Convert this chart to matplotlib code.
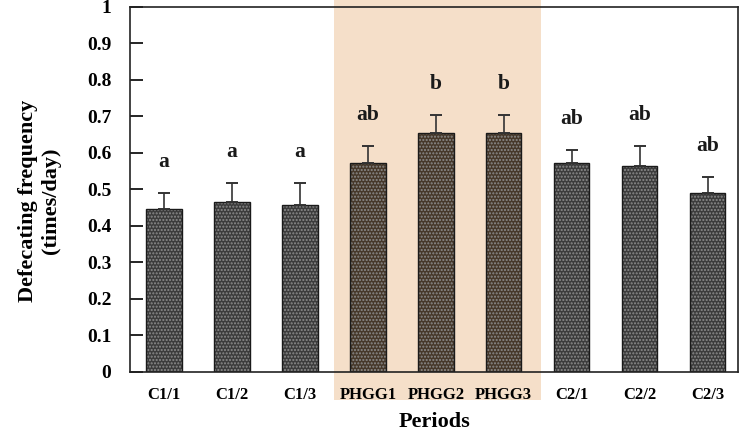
import numpy as np
import matplotlib
matplotlib.use('Agg')
import matplotlib.pyplot as plt
from matplotlib.patches import Rectangle
import matplotlib.transforms as mtransforms

# data
periods = ['C1/1', 'C1/2', 'C1/3', 'PHGG1', 'PHGG2', 'PHGG3', 'C2/1', 'C2/2', 'C2/3']
means = [0.447, 0.466, 0.456, 0.573, 0.655, 0.655, 0.572, 0.563, 0.490]
err_top = [0.490, 0.518, 0.518, 0.620, 0.705, 0.705, 0.607, 0.620, 0.533]
letters = ['a', 'a', 'a', 'ab', 'b', 'b', 'ab', 'ab', 'ab']
phgg_span = (2.5, 5.55)

plt.rcParams['font.family'] = ['Liberation Serif', 'DejaVu Serif']
plt.rcParams['font.weight'] = 'bold'

fig = plt.figure(figsize=(7.39, 4.36), dpi=100)
ax = fig.add_axes([0.176, 0.147, 0.823, 0.837])

x = np.arange(len(periods))
yerr = np.array(err_top) - np.array(means)

# shaded PHGG period, runs above the plot and down over the tick labels
trans = mtransforms.blended_transform_factory(ax.transData, ax.transAxes)
shade = Rectangle((phgg_span[0], -0.077), phgg_span[1] - phgg_span[0], 1.1,
                  transform=trans, facecolor='#f5dfc9', edgecolor='none',
                  clip_on=False, zorder=0)
ax.add_patch(shade)

colors = ['#46382a' if p.startswith('PHGG') else '#3c3c3c' for p in periods]
bars = ax.bar(x, means, width=0.52, color=colors, edgecolor='#1a1a1a',
              linewidth=1.0, hatch='.....', zorder=2)
for b in bars:
    b._hatch_color = (0.55, 0.55, 0.55, 1.0)

ax.errorbar(x, means, yerr=[np.zeros(len(x)), yerr], fmt='none',
            ecolor='#333333', elinewidth=1.2, capsize=4.6, capthick=1.4, zorder=3)

for xi, top, lab in zip(x, err_top, letters):
    ax.text(xi, top + 0.085, lab, ha='center', va='center',
            fontsize=15.5, fontweight='bold', color='#1a1a1a')

ax.set_xlim(-0.5, 8.45)
ax.set_ylim(0, 1)
ticks = np.round(np.arange(0, 1.01, 0.1), 1)
ax.set_yticks(ticks)
ax.set_yticklabels([f'{v:g}' for v in ticks], fontsize=14, fontweight='bold')
ax.set_xticks(x)
ax.set_xticklabels(periods, fontsize=12, fontweight='bold')
ax.tick_params(axis='y', direction='in', length=9, width=1.2, pad=13.5)
ax.tick_params(axis='x', length=0, pad=11)

for s in ax.spines.values():
    s.set_color('#222222')
    s.set_linewidth(1.2)

ax.set_ylabel('Defecating frequency\n(times/day)', fontsize=16,
              fontweight='bold', linespacing=1.2)
ax.yaxis.set_label_coords(-0.113, 0.47)
ax.set_xlabel('Periods', fontsize=16, fontweight='bold', labelpad=6)

fig.savefig('out.png', dpi=100)
